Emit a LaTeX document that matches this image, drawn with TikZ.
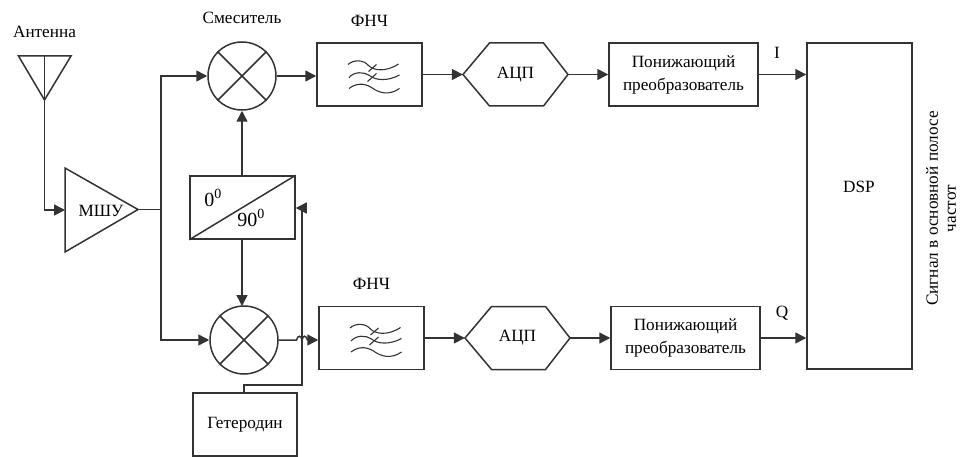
\documentclass[tikz,border=0pt]{standalone}
\usepackage{fontspec}
\setmainfont{Liberation Serif}
\usetikzlibrary{arrows.meta,calc}
\tikzset{
  x=1pt,y=-1pt,
  every node/.style={font=\fontsize{17.2}{23}\selectfont},
  ln/.style={line width=1.5pt,draw=black!80},
  conn/.style={ln,-{Triangle[length=11pt,width=11pt]}},
  blockbox/.style={ln,rectangle,inner sep=0pt,align=center,minimum width=#1,minimum height=63pt},
  hexa/.style={rectangle,inner sep=0pt,minimum width=105pt,minimum height=63pt},
  mixer/.style={ln,circle,inner sep=0pt,minimum size=68pt},
  lab/.style={inner sep=0pt,anchor=center},
  wave/.style={line width=1.1pt,draw=black!80},
  filt/.pic={
    \draw[wave] (-21.5,-10) .. controls (-16,-15) and (-6,-15) .. (-1,-9) .. controls (4,-4) and (16,-2) .. (29,-10.5);
    \draw[wave] (-20.5,3) .. controls (-15,-3) and (-6,-3) .. (0,1) .. controls (6,6) and (18,7) .. (30,0.5);
    \draw[wave] (-20.5,14) .. controls (-14,9) and (-6,8) .. (2,13) .. controls (10,19) and (20,21) .. (30,14);
    \draw[wave] (-1,-3) -- (7,-10);
    \draw[wave] (-2,7) -- (7,-1);
  },
  hexpath/.pic={
    \draw[ln,fill=white] (-52.5,0) -- (-26,-31.5) -- (28,-31.5) -- (52.5,0) -- (28,31.5) -- (-26,31.5) -- cycle;
  }
}
\begin{document}
\begin{tikzpicture}
\useasboundingbox (0,0) rectangle (960,457);
% antenna
\coordinate (antTop) at (44.5,56);
\coordinate (antTip) at (44.5,100);
\draw[ln,line join=miter] (18.5,56) -- (71,56) -- (antTip) -- cycle;
\draw[ln] (antTop) -- (antTip);
\node[lab] (antl) at (44.5,32) {Антенна};
% LNA
\draw[ln] (65,168) -- (138,209.5) -- (65,252) -- cycle;
\node[lab] (lna) at (101,211) {МШУ};
\coordinate (lnaIn) at (65,210);
\coordinate (lnaOut) at (138,209.5);
\coordinate (trunk) at (161,209.5);
% mixers
\node[mixer] (m1) at (242,76) {};
\node[mixer] (m2) at (244,340) {};
\foreach \m in {m1,m2}{
  \draw[ln] (\m.45) -- (\m.225);
  \draw[ln] (\m.135) -- (\m.315);
}
\node[lab] (ml) at (242,18) {Смеситель};
% splitter
\node[blockbox=105pt] (split) at (242.5,207.5) {};
\draw[ln] (split.south west) -- (split.north east);
\node[lab,font=\fontsize{20}{24}\selectfont] at (213,198) {0\textsuperscript{0}};
\node[lab,font=\fontsize{20}{24}\selectfont] at (251,218) {90\textsuperscript{0}};
% filters
\node[blockbox=105pt] (f1) at (369.5,74.5) {};
\node[blockbox=105pt] (f2) at (371.5,338) {};
\pic at (f1.center) {filt};
\pic at (f2.center) {filt};
\node[lab] at (369.5,21) {ФНЧ};
\node[lab] at (371.5,284) {ФНЧ};
% ADC
\pic at (515.5,74.5) {hexpath};
\pic at (517.5,338) {hexpath};
\node[hexa] (a1) at (515.5,74.5) {АЦП};
\node[hexa] (a2) at (517.5,338) {АЦП};
% down converters
\node[blockbox=149pt] (d1) at (683.5,74.5) {Понижающий\\преобразователь};
\node[blockbox=149pt] (d2) at (685.5,338) {Понижающий\\преобразователь};
% DSP
\node[ln,rectangle,inner sep=0pt,minimum width=105pt,minimum height=326pt] (dsp) at (859.5,206) {};
\node[lab] at (859,187) {DSP};
\node[lab] at (777,53) {I};
\node[lab] at (782,313) {Q};
\node[lab,rotate=90] at (932,208.5) {Сигнал в основной полосе};
\node[lab,rotate=90] at (952,208.5) {частот};
% LO
\node[blockbox=104pt] (lo) at (245,424.5) {Гетеродин};
% connectors
\draw[conn] (antTip) -- (44.5,210) -- (lnaIn);
\draw[ln] (lnaOut) -- (trunk);
\draw[conn] (trunk) -- (161,76) -- (m1.west);
\draw[conn] (trunk) -- (161,340) -- (m2.west);
\draw[conn] (split.north -| m1) -- (m1.south);
\draw[conn] (split.south -| m1) -- (242,306);
\draw[conn] (m1.east) -- (f1.west |- m1.east);
\draw[conn] (m2.east) -- (296.5,340) .. controls (298,335) and (301,335) .. (302,340)
   .. controls (303,335) and (306,335) .. (307.5,340) -- (f2.west |- m2.east);
\draw[conn] (f1.east) -- (a1.west);
\draw[conn] (f2.east) -- (a2.west);
\draw[conn] (a1.east) -- (d1.west);
\draw[conn] (a2.east) -- (d2.west);
\draw[conn] (d1.east) -- (dsp.west |- d1.east);
\draw[conn] (d2.east) -- (dsp.west |- d2.east);
\draw[conn] (lo.north -| m2) -- (244,385) -- (302,385) -- (302,208) -- (split.east |- 0,208);
\end{tikzpicture}
\end{document}
